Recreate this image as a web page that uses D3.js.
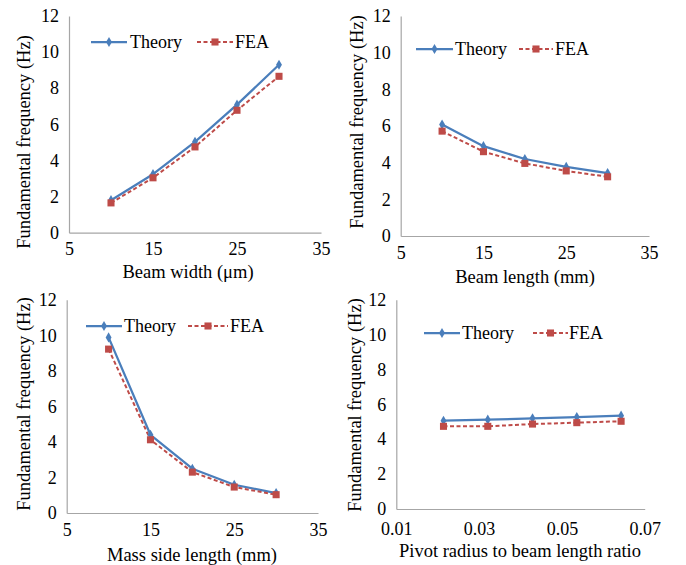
<!DOCTYPE html>
<html>
<head>
<meta charset="utf-8">
<script src="https://cdn.jsdelivr.net/npm/d3@7"></script>
<style>
  html, body { margin: 0; padding: 0; background: #fff; }
  svg, svg text { font-family: "Liberation Serif", "Times New Roman", serif !important; }
  svg { display: block; }
</style>
</head>
<body>
<svg id="chart" width="686" height="565"></svg>
<script>
// ---- data ----
const seriesNames = ["Theory", "FEA"];
const yTicks = [0, 2, 4, 6, 8, 10, 12];
const xTicksMM = [5, 15, 25, 35];
const xTicksRatio = [0.01, 0.03, 0.05, 0.07];

const beamWidth = [10, 15, 20, 25, 30];
const theoryBeamWidth = [1.8, 3.24, 5.03, 7.09, 9.3];
const feaBeamWidth = [1.65, 3.04, 4.75, 6.78, 8.66];

const beamLength = [10, 15, 20, 25, 30];
const theoryBeamLength = [6.08, 4.9, 4.2, 3.77, 3.43];
const feaBeamLength = [5.72, 4.6, 3.96, 3.55, 3.23];

const massSide = [10, 15, 20, 25, 30];
const theoryMassSide = [9.88, 4.4, 2.49, 1.59, 1.12];
const feaMassSide = [9.22, 4.12, 2.3, 1.46, 1.03];

const pivotRatio = [0.0214, 0.0321, 0.0429, 0.0536, 0.0643];
const theoryPivot = [5.06, 5.12, 5.2, 5.27, 5.35];
const feaPivot = [4.74, 4.74, 4.87, 4.95, 5.03];

const yTitle = "Fundamental frequency (Hz)";
const xTitles = ["Beam width (\u03bcm)", "Beam length (mm)", "Mass side length (mm)", "Pivot radius to beam length ratio"];

// ---- layout ----
const panels = [
  { x: beamWidth, t: theoryBeamWidth, f: feaBeamWidth, xd: [5, 35], xt: xTicksMM, fmt: d3.format("d"), xpad: 10,
    L: 69, R: 321, T: 16, B: 232.7, title: xTitles[0], tx: 188, ty: 278, ytx: 24, yty: 142,
    lg: { x1: 91, x2: 127, tx: 130, fx1: 197, fx2: 233, ftx: 235, y: 42 } },
  { x: beamLength, t: theoryBeamLength, f: feaBeamLength, xd: [5, 35], xt: xTicksMM, fmt: d3.format("d"), xpad: 10,
    L: 400.7, R: 649, T: 16, B: 236, title: xTitles[1], tx: 525, ty: 283, ytx: 357, yty: 122,
    lg: { x1: 416, x2: 453, tx: 455, fx1: 519, fx2: 553, ftx: 555, y: 49 } },
  { x: massSide, t: theoryMassSide, f: feaMassSide, xd: [5, 35], xt: xTicksMM, fmt: d3.format("d"), xpad: 10,
    L: 66.7, R: 318, T: 299.7, B: 513, title: xTitles[2], tx: 192, ty: 561, ytx: 24, yty: 404,
    lg: { x1: 86, x2: 122, tx: 124, fx1: 188, fx2: 228, ftx: 230, y: 326 } },
  { x: pivotRatio, t: theoryPivot, f: feaPivot, xd: [0.01, 0.07], xt: xTicksRatio, fmt: d3.format(".2f"), xpad: 13,
    L: 396.3, R: 644.7, T: 299.7, B: 509, title: xTitles[3], tx: 520, ty: 557, ytx: 355, yty: 405,
    lg: { x1: 424, x2: 460, tx: 462, fx1: 533, fx2: 568, ftx: 569, y: 333 } }
];

const cTheory = "#4a7ebb";
const cFEA = "#be4b48";
const axisColor = "#a6a6a6";
const serif = "'Liberation Serif', 'Times New Roman', serif";

const svg = d3.select("#chart");

panels.forEach(p => {
  const xs = d3.scaleLinear().domain(p.xd).range([p.L, p.R]);
  const ys = d3.scaleLinear().domain([0, 12]).range([p.B, p.T]);
  const g = svg.append("g");

  const ax = g.append("g").attr("transform", `translate(0,${p.B})`)
    .call(d3.axisBottom(xs).tickValues(p.xt).tickFormat(p.fmt).tickSize(0).tickPadding(p.xpad));
  const ay = g.append("g").attr("transform", `translate(${p.L},0)`)
    .call(d3.axisLeft(ys).tickValues(yTicks).tickSize(0).tickPadding(10));
  [ax, ay].forEach(a => {
    a.attr("font-family", null).attr("font-size", null);
    a.select(".domain").attr("stroke", axisColor).attr("stroke-width", 1.2);
    a.selectAll("text").style("font-size", "18px").attr("fill", "#000").style("font-family", serif);
  });

  const pts = (vals) => p.x.map((xv, i) => [xs(xv), ys(vals[i])]);
  const line = d3.line();

  g.append("path").attr("d", line(pts(p.t))).attr("fill", "none")
    .attr("stroke", cTheory).attr("stroke-width", 2.25).attr("stroke-linejoin", "round");
  g.append("path").attr("d", line(pts(p.f))).attr("fill", "none")
    .attr("stroke", cFEA).attr("stroke-width", 2).attr("stroke-dasharray", "4,2.5");

  const diamond = d3.symbol().type(d3.symbolDiamond).size(30);
  const square = d3.symbol().type(d3.symbolSquare).size(50);
  g.selectAll(".mt").data(pts(p.t)).join("path")
    .attr("d", diamond).attr("transform", d => `translate(${d[0]},${d[1]})`).attr("fill", cTheory);
  g.selectAll(".mf").data(pts(p.f)).join("path")
    .attr("d", square).attr("transform", d => `translate(${d[0]},${d[1]})`).attr("fill", cFEA);

  const lg = p.lg;
  g.append("line").attr("x1", lg.x1).attr("x2", lg.x2).attr("y1", lg.y).attr("y2", lg.y)
    .attr("stroke", cTheory).attr("stroke-width", 2.25);
  g.append("path").attr("d", diamond).attr("transform", `translate(${(lg.x1 + lg.x2) / 2},${lg.y})`).attr("fill", cTheory);
  g.append("text").attr("x", lg.tx).attr("y", lg.y).attr("dy", "0.33em").style("font-size", "18px").text(seriesNames[0]);
  g.append("line").attr("x1", lg.fx1).attr("x2", lg.fx2).attr("y1", lg.y).attr("y2", lg.y)
    .attr("stroke", cFEA).attr("stroke-width", 2).attr("stroke-dasharray", "4,2.5");
  g.append("path").attr("d", square).attr("transform", `translate(${(lg.fx1 + lg.fx2) / 2},${lg.y})`).attr("fill", cFEA);
  g.append("text").attr("x", lg.ftx).attr("y", lg.y).attr("dy", "0.33em").style("font-size", "18px").text(seriesNames[1]);

  g.append("text").attr("x", p.tx).attr("y", p.ty).attr("text-anchor", "middle")
    .style("font-size", "18.5px").text(p.title);
  g.append("text").attr("transform", `translate(${p.ytx},${p.yty}) rotate(-90)`)
    .attr("text-anchor", "middle").attr("dy", "0.33em").style("font-size", "18.5px").text(yTitle);
});
</script>
</body>
</html>
